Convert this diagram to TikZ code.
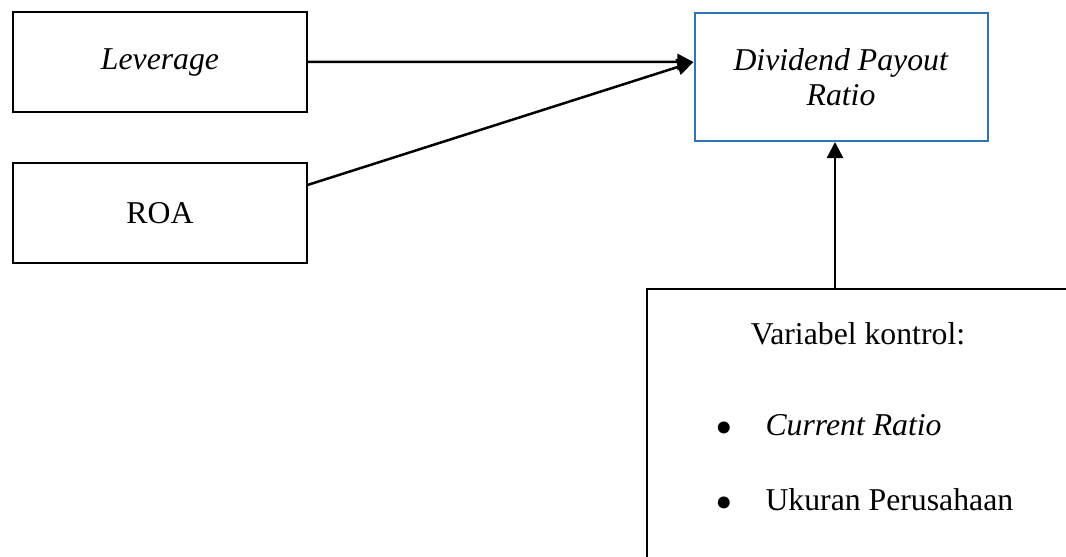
\documentclass[tikz,border=0pt]{standalone}
\usepackage{fontspec}
\setmainfont{Liberation Serif}
\usetikzlibrary{arrows.meta,positioning}
\definecolor{boxblue}{RGB}{46,117,182}
\newcommand{\itembullet}{\raisebox{-3.6pt}{\fontsize{20}{20}\selectfont\textbullet}}
\begin{document}
\begin{tikzpicture}[x=0.4pt,y=-0.4pt,
every node/.style={font=\fontsize{12.7}{14}\selectfont},
box/.style={draw,line width=0.8pt,minimum width=117.2pt,minimum height=40pt,inner sep=0pt},
item/.style={anchor=base west,inner sep=0pt},
link/.style={line width=1pt,-{Triangle[length=6.5pt,width=6.5pt]}}]
\useasboundingbox (0,0) rectangle (1066,557);
\clip (0,0) rectangle (1066,557);
\node[box] (lev) at (160,62) {\textit{Leverage}};
\node[box] (roa) at (160,213) {ROA};
\node[box,draw=boxblue,minimum height=51.2pt,align=center] (dpr) at (841,77) {\textit{Dividend Payout}\\\textit{Ratio}};
\node[box,minimum width=189.2pt,minimum height=124.4pt] (ctrl) at (883.5,444.5) {};
\node[anchor=base,inner sep=0pt] (judul) at (858,345) {Variabel kontrol:};
\node[item] (cr) at (715,436) {\makebox[20pt][l]{\itembullet}\textit{Current Ratio}};
\node[item] (size) at (715,511) {\makebox[20pt][l]{\itembullet}Ukuran Perusahaan};
\coordinate (tip) at ([yshift=6pt]dpr.west);
\draw[link] (lev.east) -- (tip);
\draw[link] ([yshift=11.2pt]roa.east) -- (tip);
\coordinate (up) at ([xshift=-2.4pt]dpr.south);
\draw[link] (up |- ctrl.north) -- (up);
\end{tikzpicture}
\end{document}
